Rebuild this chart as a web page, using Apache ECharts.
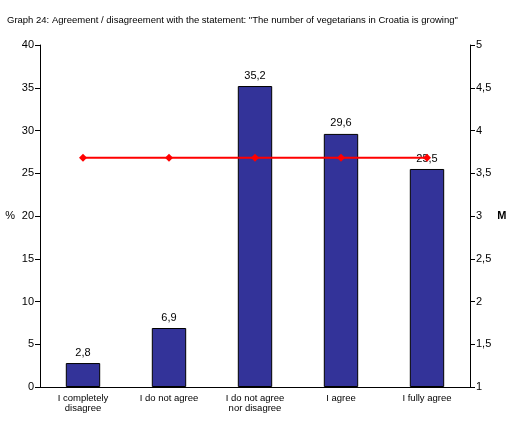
<!DOCTYPE html>
<html><head><meta charset="utf-8">
<script src="https://cdn.jsdelivr.net/npm/echarts@6/dist/echarts.min.js"></script>
<style>html,body{margin:0;background:#fff}#c{width:510px;height:427px}</style>
</head><body><div id="c"></div>
<script>
const categories = ["I completely\ndisagree","I do not agree","I do not agree\nnor disagree","I agree","I fully agree"];
const percentages = [2.8, 6.9, 35.2, 29.6, 25.5];
const averageValues = [3.68, 3.68, 3.68, 3.68, 3.68];
const fmt = v => String(v).replace('.', ',');
const chart = echarts.init(document.getElementById('c'));
const ax = {color:'#000', fontFamily:'Liberation Sans', fontSize:11};
chart.setOption({
  animation:false,
  title:{text:'Graph 24: Agreement / disagreement with the statement: "The number of vegetarians in Croatia is growing"',left:2,top:10,textStyle:{fontSize:9.5,fontWeight:'normal',color:'#000',fontFamily:'Liberation Sans'}},
  grid:{left:40,right:40,top:45,bottom:40},
  xAxis:{type:'category',data:categories,axisLine:{lineStyle:{color:'#000'}},axisTick:{lineStyle:{color:'#000'}},
    axisLabel:{...ax,fontSize:9.5,lineHeight:10,margin:6,interval:0}},
  yAxis:[
    {type:'value',min:0,max:40,interval:5,name:'%',nameLocation:'middle',nameGap:25,nameRotate:0,nameTextStyle:{...ax},
     axisLine:{show:true,lineStyle:{color:'#000'}},axisTick:{show:true,lineStyle:{color:'#000'}},splitLine:{show:false},axisLabel:{...ax,margin:6}},
    {type:'value',min:1,max:5,interval:0.5,name:'M',nameLocation:'middle',nameGap:25,nameRotate:0,nameTextStyle:{...ax,fontWeight:'bold'},
     axisLine:{show:true,lineStyle:{color:'#000'}},axisTick:{show:true,lineStyle:{color:'#000'}},splitLine:{show:false},
     axisLabel:{...ax,margin:6,formatter:v=>fmt(v)}}
  ],
  series:[
    {type:'bar',data:percentages,barWidth:'40%',itemStyle:{color:'#333399',borderColor:'#000',borderWidth:1},
     label:{show:true,position:'top',color:'#000',fontSize:11,fontFamily:'Liberation Sans',formatter:p=>fmt(p.value)}},
    {type:'line',yAxisIndex:1,data:averageValues,symbol:'diamond',symbolSize:8,lineStyle:{color:'#ff0000',width:2},itemStyle:{color:'#ff0000'},
     markPoint:{symbol:'none',data:[{coord:[0,3.68],value:'Average estimation = 3,68'}],label:{show:true,color:'#000',fontSize:9.5,fontFamily:'Liberation Sans',position:'right',offset:[-10,-12],align:'left',formatter:'Average estimation = 3,68'}}}
  ]
});
</script></body></html>
